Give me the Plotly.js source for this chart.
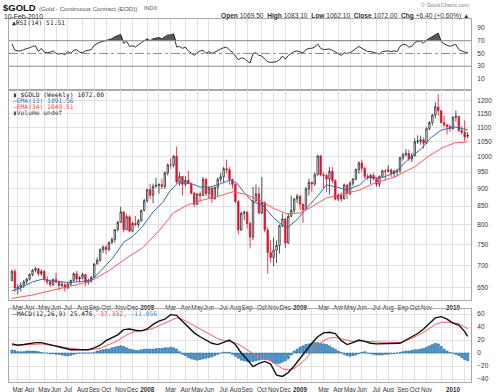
<!DOCTYPE html>
<html><head><meta charset="utf-8">
<script src="https://cdn.plot.ly/plotly-3.0.1.min.js"></script>
<style>html,body{margin:0;padding:0;background:#fff}#chart{width:499px;height:392px}</style>
</head><body><div id="chart"></div>
<script>
// ---------- DATA ----------
const dates = ['2007-02-19','2007-02-26','2007-03-05','2007-03-12','2007-03-19','2007-03-26','2007-04-02','2007-04-09','2007-04-16','2007-04-23','2007-04-30','2007-05-07','2007-05-14','2007-05-21','2007-05-28','2007-06-04','2007-06-11','2007-06-18','2007-06-25','2007-07-02','2007-07-09','2007-07-16','2007-07-23','2007-07-30','2007-08-06','2007-08-13','2007-08-20','2007-08-27','2007-09-03','2007-09-10','2007-09-17','2007-09-24','2007-10-01','2007-10-08','2007-10-15','2007-10-22','2007-10-29','2007-11-05','2007-11-12','2007-11-19','2007-11-26','2007-12-03','2007-12-10','2007-12-17','2007-12-24','2007-12-31',
'2008-01-07','2008-01-14','2008-01-21','2008-01-28','2008-02-04','2008-02-11','2008-02-18','2008-02-25','2008-03-03','2008-03-10','2008-03-17','2008-03-24','2008-03-31','2008-04-07','2008-04-14','2008-04-21','2008-04-28','2008-05-05','2008-05-12','2008-05-19','2008-05-26','2008-06-02','2008-06-09','2008-06-16','2008-06-23','2008-06-30','2008-07-07','2008-07-14','2008-07-21','2008-07-28','2008-08-04','2008-08-11','2008-08-18','2008-08-25','2008-09-01','2008-09-08','2008-09-15','2008-09-22','2008-09-29','2008-10-06','2008-10-13','2008-10-20','2008-10-27','2008-11-03','2008-11-10','2008-11-17','2008-11-24','2008-12-01','2008-12-08','2008-12-15','2008-12-22','2008-12-29',
'2009-01-05','2009-01-12','2009-01-19','2009-01-26','2009-02-02','2009-02-09','2009-02-16','2009-02-23','2009-03-02','2009-03-09','2009-03-16','2009-03-23','2009-03-30','2009-04-06','2009-04-13','2009-04-20','2009-04-27','2009-05-04','2009-05-11','2009-05-18','2009-05-25','2009-06-01','2009-06-08','2009-06-15','2009-06-22','2009-06-29','2009-07-06','2009-07-13','2009-07-20','2009-07-27','2009-08-03','2009-08-10','2009-08-17','2009-08-24','2009-08-31','2009-09-07','2009-09-14','2009-09-21','2009-09-28','2009-10-05','2009-10-12','2009-10-19','2009-10-26','2009-11-02','2009-11-09','2009-11-16','2009-11-23','2009-11-30','2009-12-07','2009-12-14','2009-12-21','2009-12-28',
'2010-01-04','2010-01-11','2010-01-18','2010-01-25','2010-02-01','2010-02-08'];

const opens = [666,686,648,652,656,663,669,679,689,692,
681,686,668,663,657,668,663,655,657,650,
658,666,681,669,672,679,663,667,673,703,
712,737,743,737,754,762,787,806,834,787,
821,783,803,800,810,838,865,897,881,907,
910,912,907,948,973,972,1001,920,937,913,
925,915,887,855,885,880,928,886,902,871,
904,928,936,961,958,928,913,863,786,830,
833,803,768,865,885,831,860,786,730,718,
736,747,797,815,753,822,838,870,878,855,
840,899,919,914,942,1002,942,940,929,953,
924,870,881,870,911,886,916,929,958,979,
962,937,932,940,930,913,937,954,953,957,
947,952,955,996,1006,1010,992,1003,1050,1052,
1056,1045,1096,1118,1146,1177,1162,1118,1110,1104,
1096,1138,1141,1089,1083,1069.5];

const highs = [690,692,658,662,667,672,682,691,697,694,
691,690,675,668,670,683,666,665,660,662,
668,684,687,676,683,681,670,676,705,718,
740,747,748,757,767,788,810,848,835,828,
825,807,823,815,840,870,900,915,915,933,
916,930,952,978,995,1005,1033,950,938,937,
955,918,890,886,892,935,932,906,904,906,
934,948,966,990,966,929,915,867,835,838,
836,808,905,912,905,935,863,794,760,767,
760,800,830,818,830,880,873,885,881,858,
905,930,920,950,1007,1005,950,945,966,966,
928,886,889,915,913,922,932,962,985,990,
967,945,945,947,931,940,958,960,972,962,
958,960,1000,1012,1025,1022,1012,1062,1072,1071,
1065,1101,1123,1150,1195,1227,1164,1142,1111,1110,
1140,1163,1142,1105,1125,1083.1];

const lows = [664,641,636,642,650,658,666,675,684,676,
676,664,657,652,654,660,645,652,642,648,
654,664,663,662,668,653,657,661,672,702,
708,729,727,733,751,754,782,806,780,785,
780,780,796,792,808,836,860,870,858,903,
885,899,900,940,961,965,915,908,880,906,
913,883,848,853,863,879,877,870,858,868,
878,920,916,946,912,900,858,775,784,812,
790,740,760,862,827,828,780,681,707,698,
705,727,793,741,751,820,830,858,839,805,
839,880,890,908,940,937,902,890,883,916,
866,864,861,869,870,881,908,925,945,950,
930,925,914,925,905,905,935,925,950,935,
933,937,947,987,1000,986,982,1000,1042,1040,
1026,1043,1090,1107,1133,1143,1115,1102,1075,1085,
1092,1122,1085,1075,1052,1062.1];

const closes = [686,650,652,656,663,669,679,689,692,681,
686,668,663,657,668,663,655,657,650,658,
666,681,669,672,679,663,667,673,703,712,
737,743,737,754,762,787,806,834,787,821,
783,803,800,810,838,865,897,881,907,910,
912,907,948,973,972,1001,920,937,913,925,
915,887,855,885,880,928,886,902,871,904,
928,936,961,958,928,913,863,786,830,833,
803,768,865,885,831,860,786,730,718,736,
747,797,815,753,822,838,870,878,855,840,
899,919,914,942,1002,942,940,929,953,924,
870,881,870,911,886,916,929,958,979,962,
937,932,940,930,913,937,954,953,957,947,
952,955,996,1006,1010,992,1003,1050,1052,1056,
1045,1096,1118,1146,1177,1162,1118,1110,1104,1096,
1138,1141,1089,1083,1066,1072];

const ema13Dates = ['2007-02-19','2007-03-12','2007-04-09','2007-05-03','2007-05-28','2007-06-29','2007-07-30','2007-08-28','2007-09-17','2007-10-17','2007-11-12','2007-12-04','2007-12-27','2008-01-21','2008-02-13','2008-03-01','2008-03-20','2008-04-17','2008-05-12','2008-06-04','2008-06-28','2008-07-22','2008-08-07','2008-08-26','2008-09-14','2008-10-08','2008-11-01','2008-11-25','2008-12-07','2008-12-28','2009-01-21','2009-02-14','2009-03-09','2009-04-02','2009-04-26','2009-05-27','2009-06-15','2009-07-18','2009-08-18','2009-09-18','2009-10-22','2009-11-14','2009-12-08','2010-01-08','2010-02-08'];
const ema13 = [644,650,663,669,664,662,663,667,686,717,755,770,795,834,860,893,917,917,905,905,914,926,917,887,862,853,820,797,793,812,845,876,911,905,896,911,935,932,948,989,1028,1066,1091,1102,1091.56];

const ema34Dates = ['2007-02-19','2007-04-09','2007-06-29','2007-08-23','2007-10-10','2007-11-19','2007-12-27','2008-02-06','2008-03-09','2008-04-12','2008-05-18','2008-06-28','2008-07-29','2008-08-26','2008-10-01','2008-11-01','2008-12-04','2009-01-04','2009-01-28','2009-03-09','2009-04-09','2009-05-10','2009-05-27','2009-07-02','2009-08-18','2009-10-05','2009-11-05','2009-12-08','2010-01-08','2010-02-08'];
const ema34 = [628,635,652,663,689,717,741,786,831,853,867,879,891,884,867,845,829,831,845,873,882,891,896,917,935,967,999,1028,1046,1049.51];

const rsi = [65,55,54,54,56,57,59,61,62,53,
58,52,51,52,54,50,49,50,48,53,
50,55,56,52,51,54,55,56,63,66,
68,69,70,72,73,76,78,80,66,69,
61,62,60,64,67,70,73,70,73,74,
75,73,76,79,79,81,60,61,58,60,
54,50,47,51,54,55,50,53,50,52,
55,57,59,60,55,52,46,40,43,42,
38,35,50,51,47,46,41,37,36,36,
37,40,46,41,47,50,53,54,52,51,
56,58,58,60,65,58,56,56,57,55,
52,49,47,51,50,51,54,57,61,58,
55,53,53,52,50,49,53,54,54,53,
54,53,61,64,64,60,61,67,69,69.5,
66,71,74,77,79,82,69,65,63,61,
63,64,56,54,52,51.51];

const macdDates = ['2007-02-19','2007-03-05','2007-03-19','2007-04-02','2007-04-16','2007-04-30','2007-05-14','2007-05-28','2007-06-11','2007-06-25','2007-07-09','2007-07-23','2007-08-06','2007-08-20','2007-09-03','2007-09-17','2007-10-01','2007-10-15','2007-10-29','2007-11-12','2007-11-26','2007-12-10','2007-12-24','2008-01-07','2008-01-21','2008-02-04','2008-02-18','2008-03-03','2008-03-17','2008-03-31','2008-04-14','2008-04-28','2008-05-12','2008-05-26','2008-06-09','2008-06-23','2008-07-07','2008-07-21','2008-08-04','2008-08-18','2008-09-01','2008-09-15','2008-09-29','2008-10-13','2008-10-27','2008-11-10','2008-11-24','2008-12-08','2008-12-22','2009-01-05','2009-01-19','2009-02-02','2009-02-16','2009-03-02','2009-03-16','2009-03-30','2009-04-13','2009-04-27','2009-05-11','2009-05-25','2009-06-08','2009-06-22','2009-07-06','2009-07-20','2009-08-03','2009-08-17','2009-08-31','2009-09-14','2009-09-28','2009-10-12','2009-10-26','2009-11-09','2009-11-23','2009-12-07','2009-12-21','2010-01-04','2010-01-18','2010-02-01','2010-02-08'];
const macdLine = [14,12,13,15,16,16,14,11,9,7,5,5,5,5,8,12,19,23,28,36,37,35,34,37,44,49,52,59,58,49,40,31,25,20,15,13,16,20,13,0,-10,-21,-16,-13,-17,-34,-36,-30,-20,-8,3,15,25,31,32,30,19,13,16,20,18,15,14,14,14,14,15,20,25,30,37,46,54,56,52,46,43,33,25.476];
const signalLine = [12,12,12.5,13,13.5,14,13,12,10.5,8.5,7,5.5,5,5,5.5,7,11,14.5,19,25,30,33,34,35.5,38,42,46,51,54,52,47,41,36,31,26,22,19,18,16,11,5,-1,-5,-9,-12,-18,-24,-26,-24,-17,-9,2,12,19,23,24,22,19,17.5,18.5,18.5,17.5,17,16.5,16,16,16,18.5,22.5,27,32,38,44,47,47.5,46.5,45,40,37.332];
const macdHist = [4.5,4,2,2,2,3,3,3,3,2,
1,0,0,-1,-1,-2,-2,-3,-4,-4.5,
-3.5,-2,-1,0,0,0,0,0,1,3,
4,5,6,6,8,9,10,11,10,8,
6,5,4,4,5,6,6,6,6,7,
7,7,8,8,9,8,6,2,-2,-4,
-7,-9,-10,-11,-10,-9,-8,-7,-6,-4,
-2,0,1,1,1,-2,-5,-8,-11,-12,
-13,-13,-13,-12,-11,-10,-10,-10,-12,-15,
-16,-16,-14,-12,-9,-3,3,6,9,11,
13,14,15,16,16,15,14,13,11,8,
6,3,1,-2,-4,-5,-4,-3,-1,1,
2,0,-1,-2,-3,-3,-3,-2,-2,-1,
-1,0,1,2,3,3,4,5,5,6,
7,9,11,13,15,14,10,6,3,1,
0,-2,-4,-7,-10,-11.856];

const monthTicks = ['2007-03-05','2007-04-02','2007-05-07','2007-06-04','2007-07-02','2007-08-06','2007-09-03','2007-10-01','2007-11-05','2007-12-03','2008-01-07','2008-02-04','2008-03-03','2008-04-07','2008-05-05','2008-06-02','2008-07-07','2008-08-04','2008-09-01','2008-10-06','2008-11-03','2008-12-01','2009-01-05','2009-02-02','2009-03-02','2009-04-06','2009-05-04','2009-06-01','2009-07-06','2009-08-03','2009-09-07','2009-10-05','2009-11-02','2009-12-07','2010-01-04','2010-02-01'];
const monthLabels = ['Mar','Apr','May','Jun','Jul','Aug','Sep','Oct','Nov','Dec','<b>2008</b>','','Mar','Apr','May','Jun','Jul','Aug','Sep','Oct','Nov','Dec','<b>2009</b>','','Mar','Apr','May','Jun','Jul','Aug','Sep','Oct','Nov','','<b>2010</b>',''];
const priceTicks = [650,700,750,800,850,900,950,1000,1050,1100,1150,1200];
const rsiTicks = [10,30,50,70,90];
const macdTicks = [-40,-20,0,20,40,60];

// ---------- LAYOUT HELPERS ----------
const W = 499, H = 392;
const py = y => 1 - y / H;
const xDom = [9 / W, 471 / W];
const xRange = ['2007-02-12', '2010-02-16'];
const GRID = '#e1e1e1', BORDER = '#aaaaaa';
const tickFont = {family: 'Liberation Sans', size: 6.3, color: '#333'};
const yTickFont = {family: 'Liberation Sans', size: 6.5, color: '#333'};
const mono = 'DejaVu Sans Mono';

const xCommon = {
  type: 'date', range: xRange, domain: xDom,
  tickmode: 'array', tickvals: monthTicks, ticktext: monthLabels, tickangle: 0,
  showgrid: true, gridcolor: GRID, gridwidth: 1, zeroline: false,
  showline: true, mirror: true, linecolor: BORDER, linewidth: 1,
  ticks: '', tickfont: tickFont, ticklabelstandoff: 1, fixedrange: true
};
const yCommon = {
  side: 'right', showgrid: true, gridcolor: GRID, zeroline: false,
  showline: true, mirror: true, linecolor: BORDER, linewidth: 1,
  ticks: '', tickfont: yTickFont, ticklabelstandoff: 4, fixedrange: true
};

// ---------- TRACES ----------
const line70 = dates.map(() => 70);
const rsiAbove = rsi.map(v => Math.max(v, 70));
const traces = [
  {type: 'scatter', mode: 'lines', x: dates, y: line70, xaxis: 'x', yaxis: 'y',
   line: {width: 0, color: 'rgba(0,0,0,0)'}, hoverinfo: 'skip'},
  {type: 'scatter', mode: 'lines', x: dates, y: rsiAbove, xaxis: 'x', yaxis: 'y',
   fill: 'tonexty', fillcolor: '#5a5a5a', line: {width: 0, color: 'rgba(0,0,0,0)'}, hoverinfo: 'skip'},
  {type: 'scatter', mode: 'lines', x: dates, y: rsi, xaxis: 'x', yaxis: 'y',
   line: {width: 1, color: '#333'}},

  {type: 'candlestick', x: dates, open: opens, high: highs, low: lows, close: closes,
   xaxis: 'x2', yaxis: 'y2', whiskerwidth: 0,
   increasing: {line: {color: '#2a2a2a', width: 0.8}, fillcolor: '#ffffff'},
   decreasing: {line: {color: '#e3102c', width: 0.8}, fillcolor: '#e3102c'}},
  {type: 'scatter', mode: 'lines', x: ema13Dates, y: ema13, xaxis: 'x2', yaxis: 'y2',
   line: {width: 1, color: '#2f6ead'}},
  {type: 'scatter', mode: 'lines', x: ema34Dates, y: ema34, xaxis: 'x2', yaxis: 'y2',
   line: {width: 1, color: '#ff5a5a'}},

  {type: 'bar', x: dates, y: macdHist, xaxis: 'x3', yaxis: 'y3',
   width: 5 * 86400000,
   marker: {color: '#4f9fd8', line: {color: '#1f5f99', width: 0.6}}},
  {type: 'scatter', mode: 'lines', x: macdDates, y: signalLine, xaxis: 'x3', yaxis: 'y3',
   line: {width: 1, color: '#ff5a5a'}},
  {type: 'scatter', mode: 'lines', x: macdDates, y: macdLine, xaxis: 'x3', yaxis: 'y3',
   line: {width: 1.4, color: '#111'}}
];

// ---------- ANNOTATIONS ----------
function ann(x, y, text, size, color, family, anchor) {
  return {xref: 'paper', yref: 'paper', x: x / W, y: py(y), text: text, showarrow: false,
    xanchor: anchor || 'left', yanchor: 'middle',
    font: {size: size, color: color || '#222', family: family || 'Liberation Sans'}};
}
const annotations = [
  ann(1, 7, '<b>$GOLD</b>', 9.5, '#111'),
  ann(37, 8, '(Gold - Continuous Contract (EOD))', 6.2, '#555'),
  ann(142, 8, 'INDX', 5.5, '#555'),
  ann(2, 16, '10-Feb-2010', 6.8, '#222'),
  ann(472, 16, '<b>Open</b> 1069.50  <b>High</b> 1083.10  <b>Low</b> 1062.10  <b>Close</b> 1072.00  <b>Chg</b> +6.40 (+0.60%) ▲', 6.6, '#333', 'Liberation Sans', 'right'),
  ann(472, 5, '© StockCharts.com', 5.6, '#888', 'Liberation Sans', 'right'),
  ann(10, 23, '▲RSI(14) 51.51', 6.3, '#222', mono),
  ann(11, 95, '▮ $GOLD (Weekly) 1072.00', 6.3, '#222', mono),
  ann(11, 100.8, '—EMA(13) 1091.56', 6.3, '#2f6ead', mono),
  ann(11, 106.6, '—EMA(34) 1049.51', 6.3, '#ff4040', mono),
  ann(11, 112.4, '▮Volume undef', 6.3, '#444', mono),
  ann(11, 313.5, '—MACD(12,26,9) 25.476<span style="color:#ff4040">, 37.332</span><span style="color:#3a90d0">, -11.856</span>', 6.3, '#222', mono)
];

// ---------- SHAPES (RSI reference lines) ----------
const shapes = [
  {type: 'line', xref: 'paper', yref: 'y', x0: xDom[0], x1: xDom[1], y0: 70, y1: 70, line: {color: '#8c8c8c', width: 1}},
  {type: 'line', xref: 'paper', yref: 'y', x0: xDom[0], x1: xDom[1], y0: 30, y1: 30, line: {color: '#8c8c8c', width: 1}},
  {type: 'line', xref: 'paper', yref: 'y', x0: xDom[0], x1: xDom[1], y0: 50, y1: 50, line: {color: '#8c8c8c', width: 1, dash: 'dashdot'}}
];

const layout = {
  width: W, height: H, margin: {l: 0, r: 0, t: 0, b: 0},
  paper_bgcolor: '#fff', plot_bgcolor: '#fff', showlegend: false,
  bargap: 0.2,
  xaxis: Object.assign({}, xCommon, {anchor: 'y', showticklabels: false}),
  yaxis: Object.assign({}, yCommon, {domain: [py(89.5), py(19)], range: [-6.5, 104],
    tickmode: 'array', tickvals: rsiTicks, showgrid: false}),
  xaxis2: Object.assign({}, xCommon, {anchor: 'y2', matches: 'x', rangeslider: {visible: false}}),
  yaxis2: Object.assign({}, yCommon, {domain: [py(300), py(90)], type: 'log',
    range: [Math.log10(624.7), Math.log10(1244)], tickmode: 'array', tickvals: priceTicks}),
  xaxis3: Object.assign({}, xCommon, {anchor: 'y3', matches: 'x'}),
  yaxis3: Object.assign({}, yCommon, {domain: [py(382), py(309)], range: [-44.6, 67.7],
    tickmode: 'array', tickvals: macdTicks}),
  annotations: annotations, shapes: shapes
};

Plotly.newPlot('chart', traces, layout, {staticPlot: true, displayModeBar: false});
</script>
</body></html>
